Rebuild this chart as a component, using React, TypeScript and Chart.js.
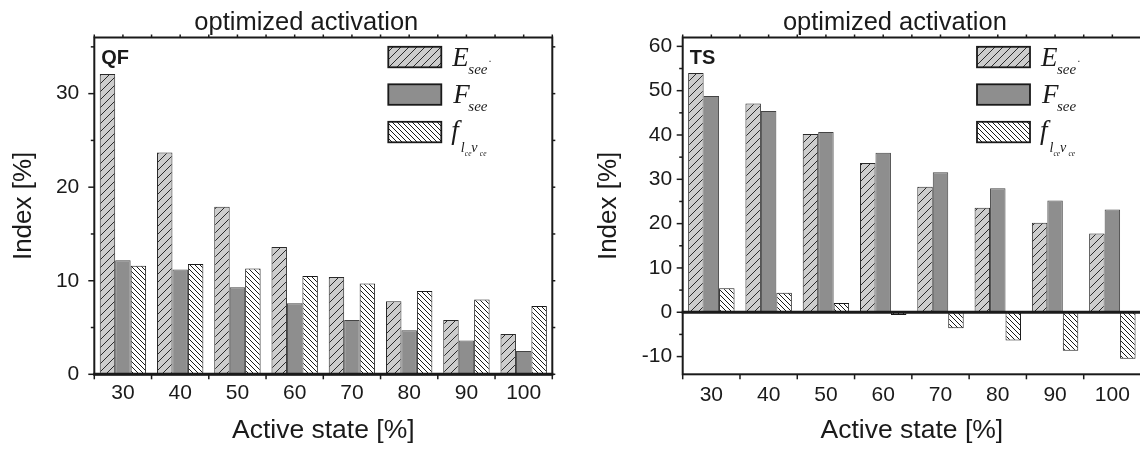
import React, { useEffect, useRef } from 'react';
import { Chart, registerables } from 'chart.js';

Chart.register(...registerables);

// ---------- data ----------
const categories = ['30', '40', '50', '60', '70', '80', '90', '100'];

const qfEsee = [32.1, 23.7, 17.9, 13.6, 10.4, 7.8, 5.8, 4.3];
const qfFsee = [12.2, 11.2, 9.3, 7.6, 5.8, 4.7, 3.6, 2.5];
const qfFlv = [11.6, 11.8, 11.3, 10.5, 9.7, 8.9, 8.0, 7.3];

const tsEsee = [54.0, 47.1, 40.2, 33.7, 28.3, 23.6, 20.2, 17.8];
const tsFsee = [48.8, 45.4, 40.7, 36.0, 31.6, 28.0, 25.2, 23.2];
const tsFlv = [5.4, 4.4, 2.1, -0.6, -3.6, -6.4, -8.7, -10.5];

const qfYTicks = [0, 10, 20, 30];
const tsYTicks = [-10, 0, 10, 20, 30, 40, 50, 60];

const chartTitle = 'optimized activation';
const xTitle = 'Active state [%]';
const yTitle = 'Index [%]';

// ---------- styling ----------
const SANS = '"Liberation Sans", Arial, sans-serif';
const SERIF = '"Liberation Serif", "Times New Roman", serif';
const INK = '#1a1a1a';

type Panel = {
  tag: string;
  e: number[];
  F: number[];
  f: number[];
  yMin: number;
  yMax: number;
  yTicks: number[];
  axisLeft: number;
  padRight: number;
  yTitlePad: number;
  yTickPad: number;
  xTickPad: number;
};

const qfPanel: Panel = {
  tag: 'QF', e: qfEsee, F: qfFsee, f: qfFlv,
  yMin: 0, yMax: 36, yTicks: qfYTicks,
  axisLeft: 94.3, padRight: 17.7, yTitlePad: 8, yTickPad: 15, xTickPad: 6,
};

const tsPanel: Panel = {
  tag: 'TS', e: tsEsee, F: tsFsee, f: tsFlv,
  yMin: -14, yMax: 62, yTicks: tsYTicks,
  axisLeft: 112.7, padRight: 9, yTitlePad: 23, yTickPad: 10.5, xTickPad: 8,
};

function hatch(ctx: CanvasRenderingContext2D, bg: string, fg: string, size: number, dir: number, lw: number) {
  const c = document.createElement('canvas');
  c.width = size;
  c.height = size;
  const g = c.getContext('2d')!;
  g.fillStyle = bg;
  g.fillRect(0, 0, size, size);
  g.strokeStyle = fg;
  g.lineWidth = lw;
  g.beginPath();
  if (dir > 0) {
    g.moveTo(-1, size + 1); g.lineTo(size + 1, -1);
    g.moveTo(-1, 1); g.lineTo(1, -1);
    g.moveTo(size - 1, size + 1); g.lineTo(size + 1, size - 1);
  } else {
    g.moveTo(-1, -1); g.lineTo(size + 1, size + 1);
    g.moveTo(size - 1, -1); g.lineTo(size + 1, 1);
    g.moveTo(-1, size - 1); g.lineTo(1, size + 1);
  }
  g.stroke();
  return ctx.createPattern(c, 'repeat')!;
}

function line(ctx: CanvasRenderingContext2D, x1: number, y1: number, x2: number, y2: number) {
  ctx.beginPath();
  ctx.moveTo(x1, y1);
  ctx.lineTo(x2, y2);
  ctx.stroke();
}

function makeFramePlugin(panel: Panel) {
  return {
    id: 'frame',
    afterDraw(chart: any) {
      const { ctx, chartArea: a, scales } = chart;
      const x = scales.x;
      const y = scales.y;
      ctx.save();
      ctx.strokeStyle = INK;
      // frame
      ctx.lineWidth = 2;
      ctx.strokeRect(a.left, a.top, a.right - a.left, a.bottom - a.top);
      // zero line
      const y0 = y.getPixelForValue(0);
      ctx.lineWidth = 3;
      line(ctx, a.left - 1, y0, a.right + 1, y0);
      // y ticks
      ctx.lineWidth = 1.5;
      const start = Math.ceil(panel.yMin / 5) * 5;
      for (let v = start; v <= panel.yMax; v += 5) {
        const p = y.getPixelForValue(v);
        const major = v % 10 === 0;
        line(ctx, a.left - (major ? 6 : 3.5), p, a.left, p);
        line(ctx, a.right, p, a.right + 3, p);
      }
      // x ticks
      const n = categories.length;
      for (let i = 0; i <= n; i++) {
        const p = x.getPixelForValue(i - 0.5);
        line(ctx, p, a.bottom, p, a.bottom + 5);
      }
      for (let i = 0; i <= 2 * n; i++) {
        const p = x.getPixelForValue(i / 2 - 0.5);
        line(ctx, p, a.top - 3, p, a.top);
      }
      // chart title
      ctx.fillStyle = INK;
      ctx.font = `25.5px ${SANS}`;
      ctx.textAlign = 'center';
      ctx.textBaseline = 'alphabetic';
      ctx.fillText(chartTitle, (a.left + a.right) / 2 - 17, 30);
      // panel tag
      ctx.font = `bold 20px ${SANS}`;
      ctx.textAlign = 'left';
      ctx.fillText(panel.tag, a.left + 7, a.top + 26);
      // legend
      const ds = chart.data.datasets;
      const x0 = a.right - 164;
      const top0 = a.top + 9.3;
      const gap = 37.5;
      for (let i = 0; i < 3; i++) {
        const by = top0 + i * gap;
        ctx.fillStyle = ds[i].backgroundColor;
        ctx.fillRect(x0, by, 53, 20.5);
        ctx.lineWidth = 1.8;
        ctx.strokeStyle = INK;
        ctx.strokeRect(x0, by, 53, 20.5);
      }
      ctx.fillStyle = INK;
      ctx.strokeStyle = INK;
      ctx.textAlign = 'left';
      // E_see
      ctx.font = `italic 27px ${SERIF}`;
      ctx.fillText('E', x0 + 64, top0 + 19);
      ctx.font = `italic 15px ${SERIF}`;
      ctx.fillText('see', x0 + 80, top0 + 27);
      ctx.lineWidth = 0.8;
      line(ctx, x0 + 101, top0 + 14.5, x0 + 102.5, top0 + 14.5);
      // F_see
      ctx.font = `italic 27px ${SERIF}`;
      ctx.fillText('F', x0 + 65, top0 + gap + 18.5);
      ctx.font = `italic 15px ${SERIF}`;
      ctx.fillText('see', x0 + 80, top0 + gap + 27);
      // f_{l_ce v_ce}
      const fy = top0 + 2 * gap;
      ctx.font = `italic 27px ${SERIF}`;
      ctx.fillText('f', x0 + 63, fy + 17);
      ctx.font = `italic 14px ${SERIF}`;
      ctx.fillText('l', x0 + 72.5, fy + 30);
      ctx.fillText('v', x0 + 83, fy + 30);
      ctx.font = `italic 7.5px ${SERIF}`;
      ctx.fillText('ce', x0 + 76.5, fy + 34.5);
      ctx.fillText('ce', x0 + 91.5, fy + 34.5);
      ctx.restore();
    },
  };
}

function ChartPanel({ panel, left, width }: { panel: Panel; left: number; width: number }) {
  const ref = useRef<HTMLCanvasElement>(null);
  useEffect(() => {
    const canvas = ref.current!;
    const ctx = canvas.getContext('2d')!;
    const pE = hatch(ctx, '#cdcdcd', '#2a2a2a', 8, 1, 1);
    const pf = hatch(ctx, '#ffffff', '#1a1a1a', 5, -1, 1);
    const chart = new Chart(canvas, {
      type: 'bar',
      data: {
        labels: categories,
        datasets: [
          { label: 'Esee', data: panel.e, backgroundColor: pE as any, borderColor: '#2a2a2a', borderWidth: 1 },
          { label: 'Fsee', data: panel.F, backgroundColor: '#8e8e8e', borderColor: '#444444', borderWidth: 1 },
          { label: 'flv', data: panel.f, backgroundColor: pf as any, borderColor: '#1a1a1a', borderWidth: 1 },
        ],
      },
      options: {
        responsive: false,
        animation: false,
        layout: { padding: { top: 37.5, right: panel.padRight, left: 0, bottom: 0 } },
        datasets: { bar: { categoryPercentage: 0.81, barPercentage: 1 } },
        plugins: {
          legend: { display: false },
          tooltip: { enabled: false },
          title: { display: false },
        },
        scales: {
          x: {
            grid: { display: false, drawTicks: false },
            border: { display: false },
            ticks: { color: INK, font: { family: SANS, size: 21 }, padding: panel.xTickPad, maxRotation: 0, autoSkip: false },
            title: { display: true, text: xTitle, color: INK, font: { family: SANS, size: 26.5 }, padding: { top: 0, bottom: 5 } },
            afterFit: (s: any) => { s.height = 452 - 374.3; },
          },
          y: {
            min: panel.yMin,
            max: panel.yMax,
            grid: { display: false, drawTicks: false },
            border: { display: false },
            ticks: { color: INK, font: { family: SANS, size: 21 }, padding: panel.yTickPad },
            afterBuildTicks: (s: any) => { s.ticks = panel.yTicks.map((v) => ({ value: v })); },
            title: { display: true, text: yTitle, color: INK, font: { family: SANS, size: 26 }, padding: { top: panel.yTitlePad, bottom: 0 } },
            afterFit: (s: any) => { s.width = panel.axisLeft; },
          },
        },
      },
      plugins: [makeFramePlugin(panel)],
    } as any);
    return () => chart.destroy();
  }, [panel]);
  return (
    <canvas
      ref={ref}
      width={width}
      height={452}
      style={{ position: 'absolute', left, top: 0, width, height: 452 }}
    />
  );
}

export default function App() {
  return (
    <div style={{ position: 'absolute', left: 0, top: 0, width: 1140, height: 452, overflow: 'hidden', background: '#ffffff' }}>
      <ChartPanel panel={qfPanel} left={0} width={570} />
      <ChartPanel panel={tsPanel} left={570} width={580} />
    </div>
  );
}
